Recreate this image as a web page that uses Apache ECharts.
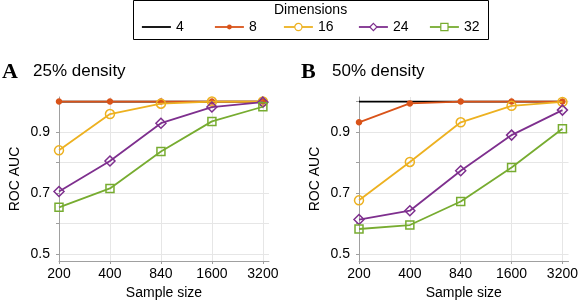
<!DOCTYPE html>
<html>
<head>
<meta charset="utf-8">
<script src="https://cdn.jsdelivr.net/npm/echarts@6/dist/echarts.min.js"></script>
<style>html,body{margin:0;padding:0;background:#fff}#c{width:581px;height:305px}</style>
</head>
<body>
<div id="c"></div>
<script>
const sampleSizes = ['200', '400', '840', '1600', '3200'];
const dimensions = ['4', '8', '16', '24', '32'];
const colors = ['#000000', '#D95319', '#EDB120', '#7E2F8E', '#77AC30'];
const symbols = ['none', 'circle', 'circle', 'diamond', 'rect'];
const panelTitles = ['25% density', '50% density'];
const panelLetters = ['A', 'B'];
const yTickValues = [0.5, 0.6, 0.7, 0.8, 0.9, 1.0];
const yLabelValues = [0.5, 0.7, 0.9];

// Panel A (25% density)
const a4 = [1.0, 1.0, 1.0, 1.0, 1.0];
const a8 = [1.0, 1.0, 1.0, 1.0, 1.0];
const a16 = [0.840, 0.959, 0.993, 1.0, 1.0];
const a24 = [0.705, 0.805, 0.929, 0.982, 0.998];
const a32 = [0.653, 0.715, 0.836, 0.935, 0.983];
// Panel B (50% density)
const b4 = [1.0, 1.0, 1.0, 1.0, 1.0];
const b8 = [0.932, 0.994, 1.0, 1.0, 1.0];
const b16 = [0.676, 0.802, 0.932, 0.986, 0.999];
const b24 = [0.613, 0.642, 0.773, 0.890, 0.972];
const b32 = [0.582, 0.595, 0.672, 0.784, 0.911];

const panels = [[a4, a8, a16, a24, a32], [b4, b8, b16, b24, b32]];
const font = 'Liberation Sans, Arial, Helvetica, sans-serif';

const grids = [
  {left: 59, right: 312, top: 97, bottom: 43},
  {left: 359, right: 10, top: 97, bottom: 43}
];

function xAxis(i) {
  return {
    type: 'value', gridIndex: i, min: 0, max: 4.12,
    axisLine: {show: true, onZero: false, lineStyle: {color: '#a0a0a0', width: 1}},
    axisTick: {show: true, customValues: [0, 1, 2, 3, 4], length: 3, inside: false, lineStyle: {color: '#a0a0a0'}},
    axisLabel: {customValues: [0, 1, 2, 3, 4], formatter: v => sampleSizes[Math.round(v)], color: '#000', fontSize: 14, fontFamily: font, margin: 6},
    splitLine: {show: true, lineStyle: {color: '#e6e6e6', width: 1}},
    name: 'Sample size', nameLocation: 'middle', nameGap: 25,
    nameTextStyle: {color: '#000', fontSize: 14, fontFamily: font}
  };
}
function yAxis(i) {
  return {
    type: 'value', gridIndex: i, min: 0.477, max: 1.015,
    axisLine: {show: true, lineStyle: {color: '#a0a0a0', width: 1}},
    axisTick: {show: true, customValues: yTickValues, length: 3, lineStyle: {color: '#a0a0a0'}},
    axisLabel: {customValues: yLabelValues, formatter: v => v.toFixed(1), color: '#000', fontSize: 14, fontFamily: font, margin: 9},
    splitLine: {show: true, lineStyle: {color: '#e6e6e6', width: 1}},
    name: 'ROC AUC', nameLocation: 'middle', nameGap: 37, nameRotate: 90,
    nameTextStyle: {color: '#000', fontSize: 14, fontFamily: font}
  };
}

const series = [];
panels.forEach((vals, p) => {
  vals.forEach((arr, k) => {
    const c = colors[k];
    const filled = k === 1;
    series.push({
      name: dimensions[k], type: 'line', xAxisIndex: p, yAxisIndex: p,
      data: arr.map((v, j) => [j, v]),
      symbol: symbols[k], showSymbol: symbols[k] !== 'none',
      symbolSize: k === 1 ? 5 : (k === 2 ? 9 : (k === 3 ? 10 : 8)),
      lineStyle: {color: c, width: 1.8},
      itemStyle: {color: filled ? c : 'rgba(255,255,255,0)', borderColor: c, borderWidth: 1.5},
      emphasis: {disabled: true},
      animation: false, z: 2 + k
    });
  });
});

const legendTextX = [175, 248, 317, 392, 463];
const legends = dimensions.map((d, k) => ({
  data: [d], left: legendTextX[k] - 34, top: 20, itemWidth: 29, itemHeight: k === 1 ? 6 : 9, itemGap: 0,
  textStyle: {color: '#000', fontSize: 14, fontFamily: font},
  itemStyle: k === 0 ? {opacity: 0} : (k === 1 ? {color: colors[1], borderColor: colors[1], borderWidth: 0} : {color: '#fff', borderColor: colors[k], borderWidth: 1.2}),
  lineStyle: {width: 1.8, color: colors[k]},
  selectedMode: false, padding: 0
}));

const titles = [];
panelLetters.forEach((L, p) => {
  const x0 = p === 0 ? 2 : 301;
  titles.push({text: L, left: x0, top: 61, padding: 0,
    textStyle: {fontFamily: 'Liberation Serif, Times New Roman, serif', fontWeight: 'bold', fontSize: 22, color: '#000'}});
  titles.push({text: panelTitles[p], left: x0 + 31, top: 63, padding: 0,
    textStyle: {fontFamily: font, fontWeight: 'normal', fontSize: 17, color: '#000'}});
});

const chart = echarts.init(document.getElementById('c'), null, {renderer: 'canvas'});
chart.setOption({
  animation: false,
  backgroundColor: '#fff',
  title: titles,
  legend: legends,
  grid: grids,
  xAxis: [xAxis(0), xAxis(1)],
  yAxis: [yAxis(0), yAxis(1)],
  series: series,
  graphic: [
    {type: 'rect', shape: {x: 133.5, y: 0.5, width: 355, height: 39}, style: {fill: 'none', stroke: '#000', lineWidth: 1}, z: -1},
    {type: 'text', left: 274, top: 3, style: {text: 'Dimensions', font: '14px ' + font, fill: '#000'}}
  ]
});
</script>
</body>
</html>
